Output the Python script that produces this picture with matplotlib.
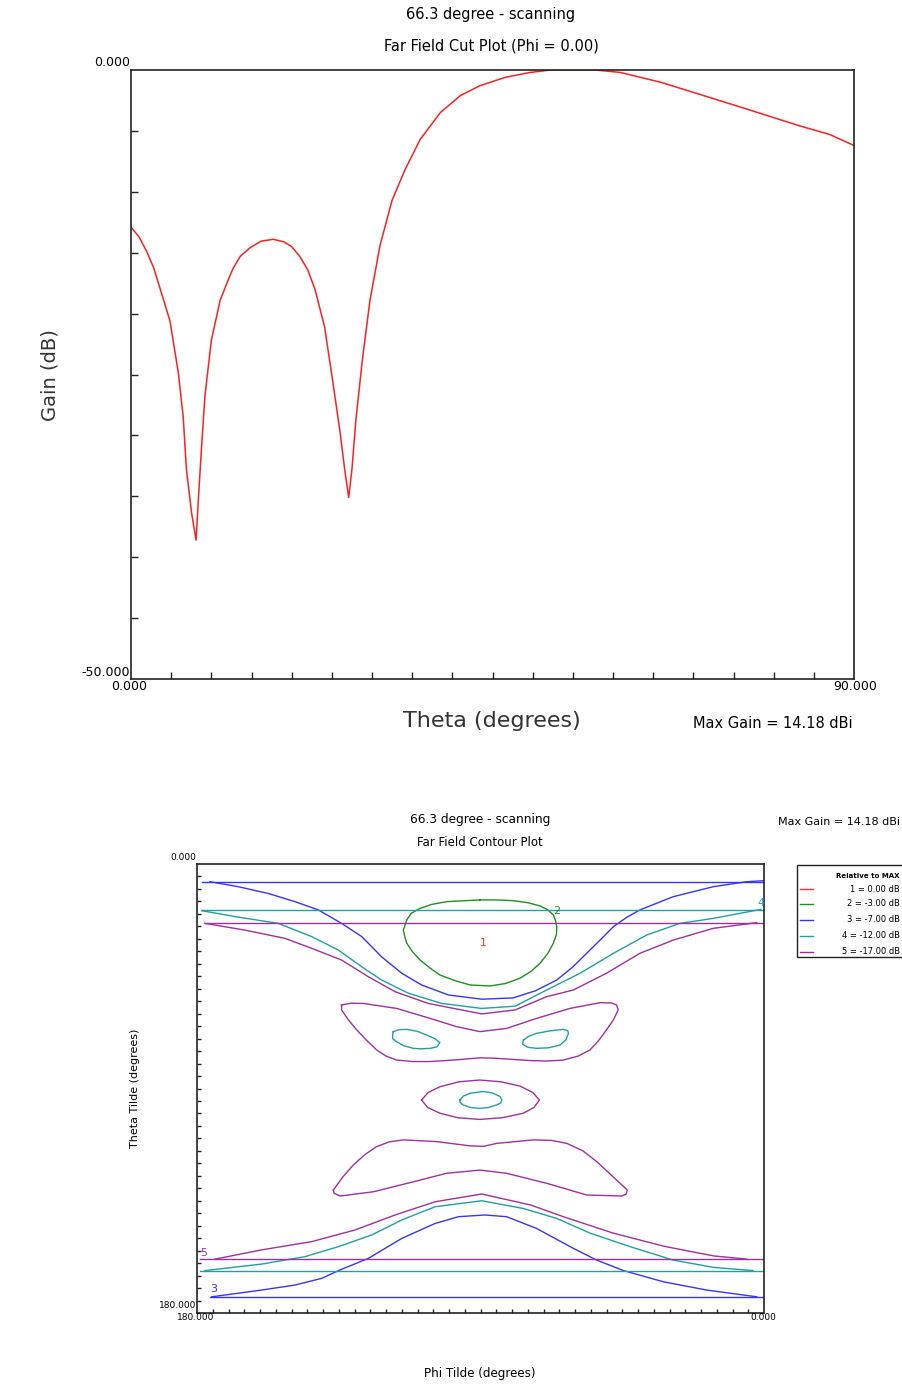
import matplotlib
matplotlib.use("Agg")
import matplotlib.pyplot as plt
from matplotlib.patches import Rectangle
from matplotlib.lines import Line2D
import numpy as np

# figure size in pixels
FIG_W, FIG_H = 902, 1387

# far field cut, phi = 0 (theta in degrees, gain in dB relative to max)
cut_theta = [0.0, 1.0, 1.95, 2.8, 3.6, 4.85, 5.9, 6.5, 6.9, 7.55, 8.1, 8.4, 8.8, 9.2,
             10.0, 11.1, 12.0, 12.7, 13.6, 14.8, 16.2, 17.7, 19.0, 20.0, 21.0, 22.0,
             22.9, 24.1, 25.1, 26.0, 26.6, 27.1, 27.5, 28.0, 28.8, 29.75, 31.0, 32.5,
             34.1, 36.0, 38.5, 41.0, 43.4, 46.6, 49.7, 52.2, 57.8, 60.9, 65.9, 70.8,
             77.1, 83.3, 87.0, 90.0]
cut_gain = [-12.9, -13.7, -14.9, -16.2, -17.9, -20.6, -24.9, -28.5, -32.8, -36.4, -38.6,
            -35.1, -30.8, -26.8, -22.2, -18.9, -17.4, -16.3, -15.3, -14.6, -14.05, -13.9,
            -14.1, -14.5, -15.3, -16.4, -18.0, -21.1, -25.5, -29.6, -32.8, -35.1, -32.8,
            -28.7, -23.8, -18.9, -14.4, -10.7, -8.2, -5.7, -3.5, -2.1, -1.3, -0.6, -0.2,
            0.0, 0.0, -0.2, -1.0, -2.0, -3.3, -4.6, -5.3, -6.2]

# contour levels relative to max
levels = ["1 = 0.00 dB", "2 = -3.00 dB", "3 = -7.00 dB", "4 = -12.00 dB", "5 = -17.00 dB"]
level_colors = ["#ff3030", "#209020", "#3535ff", "#20a0a0", "#a030a0"]

# contour paths as (phi tilde, theta tilde) in degrees
lvl2_loop = [(90.2, 14.4), (100.8, 15.1), (105.5, 16.2), (109.2, 17.8), (112.0, 19.8),
             (113.4, 22.4), (114.5, 26.5), (114.0, 29.3), (113.4, 31.8), (111.5, 35.3),
             (109.2, 38.5), (106.0, 41.7), (102.9, 44.5), (98.0, 46.8), (93.3, 48.5),
             (87.0, 48.9), (82.0, 47.9), (77.5, 45.8), (73.9, 43.0), (71.1, 39.8),
             (68.6, 35.8), (66.9, 31.8), (65.9, 28.3), (65.8, 25.1), (66.2, 22.6),
             (66.9, 20.4), (68.7, 18.3), (71.1, 16.8), (75.0, 15.5), (79.6, 14.7),
             (85.0, 14.4), (90.2, 14.4)]

lvl3_top = [(175.9, 7.1), (166.9, 9.1), (157.4, 11.8), (148.9, 15.1), (141.5, 18.4),
            (134.1, 23.8), (127.7, 29.1), (121.4, 37.2), (115.0, 43.8), (108.7, 48.5),
            (100.2, 52.5), (89.6, 54.2), (79.7, 53.7), (72.5, 50.8), (65.8, 46.5),
            (60.8, 41.4), (56.3, 35.8), (51.8, 30.2), (47.8, 25.1), (43.6, 21.4),
            (39.4, 18.4), (28.8, 13.1), (16.1, 9.1), (5.5, 7.1), (0.2, 6.7)]
lvl3_bottom = [(175.3, 173.5), (159.5, 170.8), (148.9, 168.8), (140.4, 166.1),
               (135.1, 163.0), (125.6, 158.1), (115.0, 150.1), (104.4, 144.1),
               (97.0, 141.4), (88.6, 140.7), (81.7, 141.4), (72.2, 146.1),
               (60.5, 154.1), (53.1, 158.8), (44.6, 163.0), (31.9, 167.5),
               (18.2, 170.8), (2.3, 173.5)]

lvl4_top = [(178.5, 18.7), (167.9, 21.1), (154.2, 23.8), (143.6, 29.1), (135.1, 34.5),
            (127.7, 41.2), (121.4, 46.5), (112.9, 51.8), (102.3, 55.9), (89.6, 57.9),
            (79.0, 57.0), (69.0, 50.5), (58.4, 43.8), (47.8, 35.8), (37.3, 28.5),
            (26.7, 23.8), (16.1, 21.8), (1.0, 18.2)]
lvl4_bottom = [(177.5, 163.0), (159.5, 160.4), (145.7, 157.4), (135.1, 153.4),
               (124.5, 148.7), (115.0, 142.7), (104.4, 137.4), (89.6, 135.0),
               (76.4, 138.1), (65.8, 142.1), (55.2, 148.0), (42.5, 153.4),
               (28.8, 158.8), (16.1, 161.7), (3.5, 163.0)]
lvl4_eye_left = [(117.7, 67.2), (115.8, 66.4), (113.4, 66.3), (110.0, 67.1), (107.1, 68.6),
                 (104.5, 70.0), (102.9, 71.6), (103.8, 73.3), (106.0, 73.9), (108.8, 74.1),
                 (111.3, 73.9), (114.3, 72.9), (116.6, 71.3), (117.9, 70.0), (117.9, 68.6),
                 (117.7, 67.2)]
lvl4_eye_right = [(76.4, 70.6), (74.6, 69.0), (72.2, 67.9), (68.0, 66.9), (63.7, 66.3),
                  (62.3, 66.8), (62.1, 67.9), (62.8, 70.4), (64.8, 72.6), (68.5, 73.7),
                  (72.2, 73.9), (74.9, 73.5), (76.6, 72.3), (76.4, 70.6)]
lvl4_center = [(96.5, 94.6), (95.4, 93.0), (93.3, 91.9), (89.1, 91.2), (86.2, 91.8),
               (83.8, 93.2), (83.2, 94.6), (83.6, 95.8), (84.9, 96.6), (87.5, 97.6),
               (90.2, 98.0), (93.2, 97.6), (95.5, 96.6), (96.5, 95.6), (96.5, 94.6)]

lvl5_top = [(177.5, 23.8), (164.8, 26.5), (152.1, 29.8), (143.6, 33.8), (134.1, 38.5),
            (125.6, 45.2), (117.1, 51.2), (106.6, 55.9), (89.6, 60.1), (79.0, 58.5),
            (69.0, 53.2), (60.5, 50.5), (50.0, 43.8), (39.4, 35.8), (28.8, 30.5),
            (16.1, 25.8), (2.3, 23.5)]
lvl5_bottom = [(174.3, 158.4), (159.5, 154.7), (143.6, 151.4), (129.8, 146.7),
               (117.1, 140.7), (104.4, 135.4), (89.6, 132.3), (74.1, 136.7),
               (63.7, 141.4), (47.8, 148.0), (31.9, 153.2), (16.1, 157.1), (5.5, 158.4)]
lvl5_upper_wing = [(134.1, 56.5), (131.0, 55.8), (127.2, 55.9), (116.6, 57.9), (106.0, 61.9),
                   (97.6, 65.2), (90.2, 67.2), (81.7, 65.9), (72.2, 61.9), (61.6, 57.9),
                   (52.1, 55.6), (48.5, 55.7), (46.8, 56.5), (46.3, 58.5), (47.8, 62.5),
                   (50.0, 66.5), (52.5, 70.8), (55.2, 74.5), (59.0, 77.0), (63.7, 78.6),
                   (69.0, 79.0), (74.3, 78.8), (84.9, 77.9), (90.2, 77.7), (98.6, 78.6),
                   (106.0, 79.2), (111.5, 79.2), (116.6, 78.6), (120.0, 77.0), (123.0, 74.5),
                   (126.2, 70.6), (129.3, 66.5), (132.0, 62.4), (134.1, 58.5), (134.1, 56.5)]
lvl5_center = [(108.7, 94.6), (106.6, 91.6), (102.9, 89.3), (96.8, 87.3), (90.2, 86.6),
               (83.6, 87.3), (77.5, 89.0), (73.4, 91.6), (71.3, 94.6), (73.0, 97.6),
               (76.4, 99.9), (83.0, 101.7), (90.2, 102.4), (97.3, 101.7), (102.9, 99.9),
               (106.8, 97.6), (108.7, 94.6)]
lvl5_lower_wing = [(136.7, 130.7), (133.8, 125.6), (130.4, 120.7), (126.8, 116.6),
                   (123.0, 113.3), (119.0, 111.4), (114.5, 110.6), (103.9, 111.3),
                   (93.3, 113.0), (89.0, 113.2), (84.9, 112.0), (73.2, 110.6),
                   (67.5, 110.8), (62.6, 112.0), (57.5, 115.0), (53.1, 119.3),
                   (46.8, 126.7), (43.4, 130.7), (43.8, 132.4), (45.2, 133.1),
                   (56.3, 132.7), (69.0, 128.0), (81.7, 124.0), (90.2, 122.7),
                   (100.8, 124.0), (111.3, 127.4), (124.0, 131.4), (134.6, 133.1),
                   (136.5, 132.0), (136.7, 130.7)]

# constant-theta contour rows near the edges: (theta, phi start, phi end)
lvl3_rows = [(7.1, 178.5, 0.0), (173.5, 175.9, 0.0)]
lvl4_rows = [(18.5, 178.5, 0.0), (163.2, 179.0, 0.0)]
lvl5_rows = [(23.5, 177.5, 0.0), (158.5, 179.0, 0.0)]

# contour number labels: (text, phi, theta, level index)
contour_tags = [("1", 89.1, 31.8, 0), ("2", 65.8, 18.7, 1), ("4", 0.8, 15.8, 3),
                ("5", 178.0, 155.8, 4), ("3", 174.8, 170.5, 2)]


def px(x, y):
    # pixel position -> figure fraction
    return x / FIG_W, 1 - y / FIG_H


def style_box(ax):
    for sp in ax.spines.values():
        sp.set_color("#222222")
        sp.set_linewidth(1.2)
    ax.tick_params(direction="in", length=5, width=1, color="#222222",
                   labelleft=False, labelbottom=False)


fig = plt.figure(figsize=(FIG_W / 100, FIG_H / 100), dpi=100)
plt.rcParams["font.family"] = ["DejaVu Sans"]

# ---- far field cut plot ----
ax1 = fig.add_axes([131 / FIG_W, 1 - 679 / FIG_H, 723 / FIG_W, 609 / FIG_H])
ax1.plot(cut_theta, cut_gain, color="#ff2020", lw=1.1, solid_joinstyle="round")
ax1.set_xlim(0, 90)
ax1.set_ylim(-50, 0)
ax1.set_xticks(np.arange(5, 90, 5))
ax1.set_yticks(np.arange(-45, 0, 5))
style_box(ax1)

fig.text(*px(491, 15), "66.3 degree - scanning", ha="center", va="center", fontsize=10.5)
fig.text(*px(491, 46), "Far Field Cut Plot (Phi = 0.00)", ha="center", va="center",
         fontsize=10.5)
fig.text(*px(130, 63), "0.000", ha="right", va="center", fontsize=9)
fig.text(*px(130, 672), "-50.000", ha="right", va="center", fontsize=9)
fig.text(*px(129, 686), "0.000", ha="center", va="center", fontsize=9)
fig.text(*px(855, 686), "90.000", ha="center", va="center", fontsize=9)
fig.text(*px(50, 375), "Gain (dB)", ha="center", va="center", rotation=90,
         fontsize=14, color="#333333")
fig.text(*px(492, 721), "Theta (degrees)", ha="center", va="center",
         fontsize=16, color="#333333")
fig.text(*px(773, 724), "Max Gain = 14.18 dBi", ha="center", va="center", fontsize=10.5)

# ---- far field contour plot ----
ax2 = fig.add_axes([197 / FIG_W, 1 - 1313 / FIG_H, 567 / FIG_W, 449 / FIG_H])
ax2.set_xlim(180, 0)
ax2.set_ylim(180, 0)
ax2.set_xticks(np.arange(5, 180, 5))
ax2.set_yticks(np.arange(5, 180, 5))
style_box(ax2)
ax2.tick_params(length=3)


def draw_path(pts, idx):
    p = np.array(pts)
    ax2.plot(p[:, 0], p[:, 1], color=level_colors[idx], lw=1.0, solid_joinstyle="round")


def draw_rows(rows, idx):
    for th, p0, p1 in rows:
        ax2.plot([p0, p1], [th, th], color=level_colors[idx], lw=1.0)


draw_path(lvl2_loop, 1)
draw_path(lvl3_top, 2)
draw_path(lvl3_bottom, 2)
draw_rows(lvl3_rows, 2)
for path in (lvl4_top, lvl4_bottom, lvl4_eye_left, lvl4_eye_right, lvl4_center):
    draw_path(path, 3)
draw_rows(lvl4_rows, 3)
for path in (lvl5_top, lvl5_bottom, lvl5_upper_wing, lvl5_center, lvl5_lower_wing):
    draw_path(path, 4)
draw_rows(lvl5_rows, 4)

for tag, ph, th, idx in contour_tags:
    ax2.text(ph, th, tag, color=level_colors[idx], fontsize=8, ha="center", va="center")

fig.text(*px(480, 819), "66.3 degree - scanning", ha="center", va="center", fontsize=8.7)
fig.text(*px(480, 843), "Far Field Contour Plot", ha="center", va="center", fontsize=8.5)
fig.text(*px(900, 822), "Max Gain = 14.18 dBi", ha="right", va="center", fontsize=8)
fig.text(*px(196, 857), "0.000", ha="right", va="center", fontsize=6.5)
fig.text(*px(196, 1306), "180.000", ha="right", va="center", fontsize=6.5)
fig.text(*px(196, 1318), "180.000", ha="center", va="center", fontsize=6.5)
fig.text(*px(763, 1318), "0.000", ha="center", va="center", fontsize=6.5)
fig.text(*px(135, 1088), "Theta Tilde (degrees)", ha="center", va="center",
         rotation=90, fontsize=8)
fig.text(*px(480, 1373), "Phi Tilde (degrees)", ha="center", va="center", fontsize=8.6)

# level key box, running to the right edge
fig.add_artist(Rectangle(px(797, 957), 120 / FIG_W, 92 / FIG_H, transform=fig.transFigure,
                         fill=False, edgecolor="#222222", lw=1.0))
fig.text(*px(900, 876), "Relative to MAX", ha="right", va="center", fontsize=5,
         fontweight="bold")
for i, lab in enumerate(levels):
    yy = [889, 904, 919.5, 936, 952][i]
    fig.add_artist(Line2D([800 / FIG_W, 813 / FIG_W], [1 - yy / FIG_H] * 2,
                          transform=fig.transFigure, color=level_colors[i], lw=1.0))
    fig.text(*px(900, yy), lab, ha="right", va="center", fontsize=6)

fig.savefig("out.png", dpi=100)
